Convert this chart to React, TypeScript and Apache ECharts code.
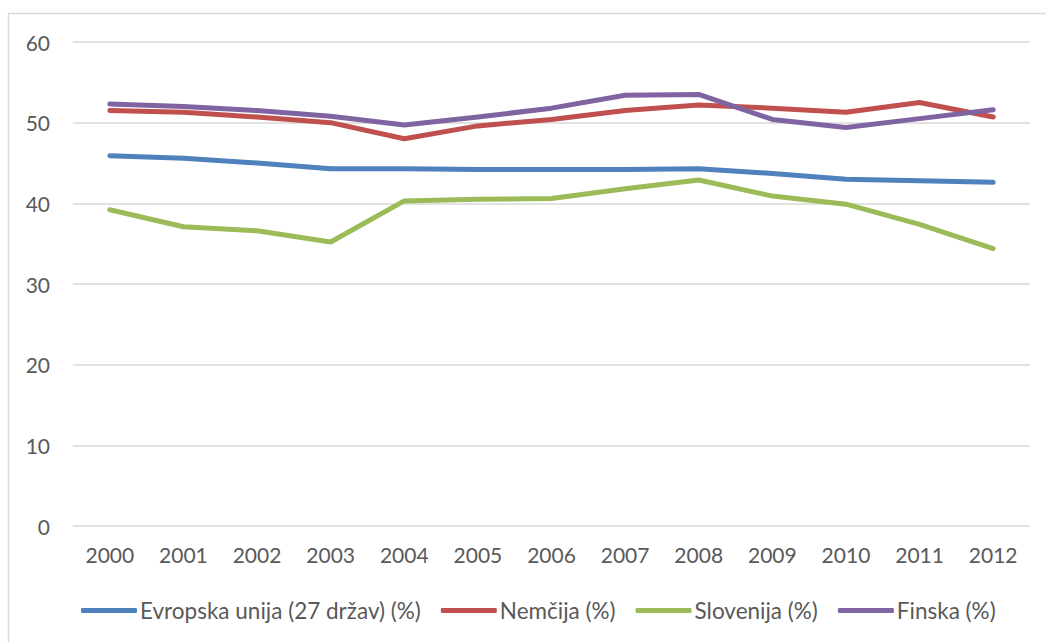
import React, { useEffect, useRef } from "react";
import * as echarts from "echarts";

const years = ["2000", "2001", "2002", "2003", "2004", "2005", "2006", "2007", "2008", "2009", "2010", "2011", "2012"];
const eu = [45.9, 45.6, 45.0, 44.3, 44.3, 44.2, 44.2, 44.2, 44.3, 43.7, 43.0, 42.8, 42.6];
const nemcija = [51.5, 51.3, 50.7, 50.0, 48.0, 49.6, 50.4, 51.5, 52.2, 51.8, 51.3, 52.5, 50.7];
const slovenija = [39.2, 37.1, 36.6, 35.2, 40.3, 40.5, 40.6, 41.8, 42.9, 40.9, 39.9, 37.4, 34.4];
const finska = [52.3, 52.0, 51.5, 50.8, 49.7, 50.7, 51.8, 53.4, 53.5, 50.4, 49.4, 50.5, 51.6];

const seriesNames = ["Evropska unija (27 držav) (%)", "Nemčija (%)", "Slovenija (%)", "Finska (%)"];
const colors = ["#4F81BD", "#C0504D", "#9BBB59", "#8064A2"];

export default function App() {
  const ref = useRef<HTMLDivElement>(null);
  useEffect(() => {
    if (!ref.current) return;
    const chart = echarts.init(ref.current, undefined, { renderer: "svg" });
    const font = "Lato, 'Open Sans', sans-serif";
    const data = [eu, nemcija, slovenija, finska];
    chart.setOption({
      animation: false,
      backgroundColor: "#ffffff",
      textStyle: { fontFamily: font },
      graphic: [
        {
          type: "rect",
          shape: { x: 8.5, y: 13.5, width: 1100, height: 700 },
          style: { fill: "none", stroke: "#d9d9d9", lineWidth: 1.5 },
          silent: true,
        },
      ],
      grid: { left: 73, right: 16, top: 42, bottom: 116, containLabel: false },
      legend: {
        left: 76,
        top: 594,
        icon: "roundRect",
        itemWidth: 56,
        itemHeight: 5,
        itemGap: 20,
        textStyle: { color: "#595959", fontSize: 22.5, fontFamily: font, padding: [0, 0, 0, -2] },
        data: seriesNames,
      },
      xAxis: {
        type: "category",
        data: years,
        boundaryGap: true,
        axisLine: { show: false },
        axisTick: { show: false },
        axisLabel: { color: "#595959", fontSize: 21, fontFamily: font, margin: 18 },
      },
      yAxis: {
        type: "value",
        min: 0,
        max: 60,
        interval: 10,
        axisLine: { show: false },
        axisTick: { show: false },
        axisLabel: { color: "#595959", fontSize: 21, fontFamily: font, margin: 23 },
        splitLine: { lineStyle: { color: "#d9d9d9", width: 1.5 } },
      },
      series: seriesNames.map((name, i) => ({
        name,
        type: "line",
        data: data[i],
        symbol: "none",
        smooth: false,
        color: colors[i],
        lineStyle: { width: 5, color: colors[i], cap: "round", join: "round" },
      })),
    });
    return () => chart.dispose();
  }, []);
  return (
    <div
      ref={ref}
      style={{ position: "absolute", left: 0, top: 0, width: 1046, height: 642 }}
    />
  );
}
